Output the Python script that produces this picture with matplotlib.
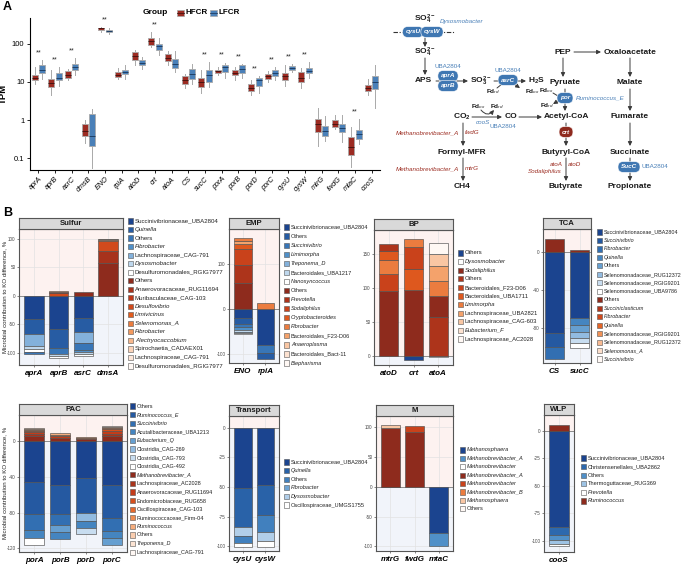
import matplotlib
matplotlib.use('Agg')
import matplotlib.pyplot as plt
import matplotlib.colors as mcolors
from matplotlib.patches import Rectangle
import numpy as np

plt.rcParams['font.family'] = ['Liberation Sans', 'DejaVu Sans']
plt.rcParams['mathtext.fontset'] = 'custom'
plt.rcParams['mathtext.rm'] = 'Liberation Sans'
plt.rcParams['mathtext.it'] = 'Liberation Sans:italic'
plt.rcParams['mathtext.bf'] = 'Liberation Sans:bold'

# ---------------- Panel A data (TPM box statistics) ----------------
genes_A = ['aprA', 'aprB', 'asrC', 'dmsB', 'ENO', 'rpiA', 'atoD', 'crt', 'atoA', 'CS', 'sucC',
           'porA', 'porB', 'porD', 'porC', 'cysU', 'cysW', 'mtrG', 'fwdG', 'mtaC', 'cooS']
hf_med = [13, 9.5, 15.5, 0.52, 250, 15.5, 47, 115, 43, 11, 10, 19, 17.5, 7, 14, 14, 13, 0.79, 0.8, 0.195, 7]
hf_q1 = [11, 7.5, 13, 0.38, 232, 13.5, 38, 95, 35, 9, 7.5, 17, 15, 5.7, 12, 11, 10, 0.5, 0.65, 0.125, 5.8]
hf_q3 = [15, 12, 19, 0.8, 265, 18, 62, 140, 55, 14, 13, 21, 21, 9, 16, 17, 18, 1.06, 1.0, 0.37, 8.1]
hf_lo = [9, 4.5, 11, 0.25, 200, 12, 27, 80, 27, 7, 5, 15, 11, 4.5, 10, 8, 7, 0.215, 0.58, 0.061, 4.7]
hf_hi = [24, 20, 22, 1.0, 275, 23, 70, 200, 65, 16, 20, 25, 24, 11, 19, 27, 23, 2.05, 1.35, 0.65, 12]
lf_med = [20, 13, 25, 0.38, 220, 18, 32, 85, 30, 16, 15, 24, 22, 11, 17, 23, 19, 0.53, 0.62, 0.43, 9.9]
lf_q1 = [17, 11, 21, 0.21, 205, 16, 27, 70, 23, 12, 10, 18, 17, 8, 14, 20, 17, 0.39, 0.5, 0.32, 6.4]
lf_q3 = [27, 17, 30, 1.45, 235, 21, 38, 100, 40, 22, 20, 28, 28, 13, 20, 26, 23, 0.71, 0.79, 0.56, 14]
lf_lo = [12, 8, 15, 0.055, 175, 12, 22, 50, 18, 9, 7.5, 13, 13, 5, 11, 18, 13, 0.29, 0.27, 0.24, 2.1]
lf_hi = [38, 24, 42, 2.0, 250, 27, 45, 140, 65, 30, 33, 32, 30, 14, 24, 29, 33, 1.27, 1.35, 1.06, 27]
sig_A = ['**', '**', '**', '', '**', '', '', '**', '', '', '**', '**', '**', '**', '**', '**', '**', '', '', '**', '']

# ---------------- Panel B data (contribution, %) ----------------
sulfur_genes = ['aprA', 'aprB', 'asrC', 'dmsA']
sulfur_neg_taxa = ['Succinivibrionaceae_UBA2804', 'Quinella', 'Others', 'Fibrobacter',
                   'Lachnospiraceae_CAG-791', 'Dysosmobacter', 'Desulfuromonadales_RGIG7977']
sulfur_neg_vals = [[-41, -58, -39, 0], [-26, -34, -25, 0], [-3, -9, -12, 0], [0, 0, -4, 0],
                   [-20, 0, -18, 0], [-6, -5, -4, 0], [-5.5, -2, -4, 0]]
sulfur_pos_taxa = ['Others', 'Anaerovoracaceae_RUG11694', 'Muribaculaceae_CAG-103', 'Desulfovibrio',
                   'Limivicinus', 'Selenomonas_A', 'Fibrobacter', 'Alectryocaccobium',
                   'Spirochaetia_CADAEX01', 'Lachnospiraceae_CAG-791', 'Desulfuromonadales_RGIG7977']
sulfur_pos_vals = [[0, 2, 6, 58], [0, 0, 0, 21], [0, 0, 0, 0], [0, 4.5, 0, 17], [0, 0, 0, 0],
                   [0, 0, 0, 2.5], [0, 1.5, 0, 0], [0, 0, 0, 1], [0, 0, 0, 0], [0, 0, 0, 0], [0, 0, 0, 0.5]]

emp_genes = ['ENO', 'rpiA']
emp_neg_taxa = ['Succinivibrionaceae_UBA2804', 'Others', 'Succinivibrio', 'Limimorpha',
                'Treponema_D', 'Bacteroidales_UBA1217', 'Nanosyncoccus']
emp_neg_vals = [[-19, -80], [-15, -13], [-7, -17], [-6, 0], [-3, 0], [-4, 0], [-2, 0]]
emp_pos_taxa = ['Others', 'Prevotella', 'Sodaliphilus', 'Cryptobacteroides', 'Fibrobacter',
                'Bacteroidales_F23-D06', 'Anaeroplasma', 'Bacteroidales_Bact-11', 'Blepharisma']
emp_pos_vals = [[59, 0], [40, 0], [35, 0], [10, 0], [5, 12.6], [8, 0], [0, 0], [0, 0], [0, 0]]

bp_genes = ['atoD', 'crt', 'atoA']
bp_neg_taxa = ['Others', 'Dysosmobacter']
bp_neg_vals = [[0, -5, 0], [0, 0, -1]]
bp_pos_taxa = ['Sodaliphilus', 'Others', 'Bacteroidales_F23-D06', 'Bacteroidales_UBA1711', 'Limimorpha',
               'Lachnospiraceae_UBA2821', 'Lachnospiraceae_CAG-603', 'Eubacterium_F', 'Lachnospiraceae_AC2028']
bp_pos_vals = [[95, 97, 31], [11, 0, 57], [26, 31, 0], [13, 31.5, 0], [20, 12, 22],
               [0, 0, 21.5], [0, 0, 18], [0, 0, 0], [0, 0, 16]]

tca_genes = ['CS', 'sucC']
tca_neg_taxa = ['Succinivibrionaceae_UBA2804', 'Succinivibrio', 'Fibrobacter', 'Quinella', 'Others',
                'Selenomonadaceae_RUG12372', 'Selenomonadaceae_RGIG9201', 'Selenomonadaceae_UBA9786']
tca_neg_vals = [[-85, -70], [-15, 0], [-13, 0], [0, -7], [0, -6.9], [0, -6.5], [0, -5.5], [0, -5.2]]
tca_pos_taxa = ['Others', 'Succiniclasticum', 'Fibrobacter', 'Quinella', 'Selenomonadaceae_RGIG9201',
                'Selenomonadaceae_RUG12372', 'Selenomonas_A', 'Succinivibrio']
tca_pos_vals = [[14, 2], [0, 0], [0, 0], [0, 0], [0, 0], [0, 0], [0, 0], [0, 0]]

pac_genes = ['porA', 'porB', 'porD', 'porC']
pac_neg_taxa = ['Others', 'Ruminococcus_E', 'Succinivibrio', 'Acutalibacteraceae_UBA1213', 'Eubacterium_Q',
                'Clostridia_CAG-269', 'Clostridia_CAG-793', 'Clostridia_CAG-492']
pac_neg_vals = [[-45.6, -49, -41, -49], [-36.4, -33, -39, -37], [-17, -12, 0, -14.5], [-9.4, -7.8, -8.6, -8.2],
                [0, -8, 0, -8], [0, 0, -9, 0], [0, 0, -6.7, 0], [-7.6, 0, 0, 0]]
pac_pos_taxa = ['Methanobrevibacter_A', 'Lachnospiraceae_AC2028', 'Anaerovoracaceae_RUG11694',
                'Endomicrobiaceae_RUG658', 'Oscillospiraceae_CAG-103', 'Ruminococcaceae_Firm-04',
                'Ruminococcus', 'Others', 'Treponema_D', 'Lachnospiraceae_CAG-791']
pac_pos_vals = [[5, 3, 2, 5], [3, 0, 0, 3], [2, 2, 1, 3], [1.5, 0, 0, 2], [1, 2, 0, 1.5],
                [1, 0, 1, 1.5], [0, 1.6, 0, 0], [0.5, 0, 0, 0], [0, 0, 0, 1], [0, 0, 0, 0]]

trans_genes = ['cysU', 'cysW']
trans_neg_taxa = ['Succinivibrionaceae_UBA2804', 'Quinella', 'Others', 'Fibrobacter',
                  'Dysosmobacter', 'Oscillospiraceae_UMGS1755']
trans_neg_vals = [[-51, -48], [-33, -26], [-6, -14], [0, 0], [-7, -7.5], [-4, -5.5]]
trans_pos_taxa = []
trans_pos_vals = []

m_genes = ['mtrG', 'fwdG', 'mtaC']
m_neg_taxa = ['Methanosphaera', 'Methanobrevibacter_A', 'Methanobrevibacter']
m_neg_vals = [[0, 0, -77], [0, 0, -23], [-1, 0, 0]]
m_pos_taxa = ['Methanobrevibacter_A', 'Methanobrevibacter', 'Methanobrevibacter_B', 'Methanosphaera', 'Others']
m_pos_vals = [[98, 92, 0], [0, 9.7, 0], [0, 0, 0], [6, 0, 0], [0, 0, 0]]

wlp_genes = ['cooS']
wlp_neg_taxa = ['Succinivibrionaceae_UBA2804', 'Christensenellales_UBA2862', 'Others',
                'Thermoguttaceae_RUG369', 'Prevotella']
wlp_neg_vals = [[-87], [-8], [-4.2], [-3.8], [-2]]
wlp_pos_taxa = ['Ruminococcus']
wlp_pos_vals = [[5.5]]

ITALIC = {'Quinella', 'Fibrobacter', 'Dysosmobacter', 'Desulfovibrio', 'Limivicinus', 'Selenomonas_A',
          'Alectryocaccobium', 'Succinivibrio', 'Limimorpha', 'Treponema_D', 'Nanosyncoccus', 'Prevotella',
          'Sodaliphilus', 'Cryptobacteroides', 'Anaeroplasma', 'Blepharisma', 'Eubacterium_F',
          'Succiniclasticum', 'Ruminococcus_E', 'Eubacterium_Q', 'Methanobrevibacter_A', 'Ruminococcus',
          'Methanosphaera', 'Methanobrevibacter', 'Methanobrevibacter_B'}

# ---------------- styling ----------------
W, H = 685, 566
HF_COL = '#9C2B22'
LF_COL = '#4A80B8'
BLUE_T = '#4A80B8'
RED_T = '#9B2A1F'
BOXB = '#3F77B2'
BOXR = '#8E2A1E'
BLUE_ANCH = ['#1B448F', '#2D69AE', '#4F90C8', '#9DC2E4', '#FFFFFF']
RED_ANCH = ['#8E2B1D', '#C0391A', '#E25C1E', '#F39A5F', '#FBD3B8', '#FFF8F4']


def ramp(anchors, n):
    cmap = mcolors.LinearSegmentedColormap.from_list('r', anchors)
    if n <= 1:
        return [cmap(0.0)] * n
    return [cmap(i / (n - 1)) for i in range(n)]


fig = plt.figure(figsize=(W / 100, H / 100), dpi=100)
fig.patch.set_facecolor('white')


def fax(x0, y0, x1, y1):
    return fig.add_axes([x0 / W, 1 - y1 / H, (x1 - x0) / W, (y1 - y0) / H])


# ---------------- Panel A boxplot ----------------
axA = fax(30, 18, 380, 170)
n = len(genes_A)
pos = np.arange(1, n + 1)
off = 0.22
bw = 0.36
hf_stats = [dict(med=hf_med[i], q1=hf_q1[i], q3=hf_q3[i], whislo=hf_lo[i], whishi=hf_hi[i]) for i in range(n)]
lf_stats = [dict(med=lf_med[i], q1=lf_q1[i], q3=lf_q3[i], whislo=lf_lo[i], whishi=lf_hi[i]) for i in range(n)]
for stats, dx, col, mcol in [(hf_stats, -off, HF_COL, '#4A1410'), (lf_stats, off, LF_COL, '#1F3F66')]:
    axA.bxp(stats, positions=pos + dx, widths=bw, patch_artist=True, showfliers=False,
            boxprops=dict(facecolor=col, edgecolor='#A9A9A9', linewidth=0.6),
            medianprops=dict(color=mcol, linewidth=0.7),
            whiskerprops=dict(color='#A9A9A9', linewidth=0.7),
            capprops=dict(linewidth=0), capwidths=0)
axA.set_yscale('log')
axA.set_ylim(0.05, 470)
axA.set_xlim(0.5, n + 0.5)
axA.set_yticks([0.1, 1, 10, 100])
axA.set_yticklabels(['0.1', '1', '10', '100'], fontsize=5.5)
axA.minorticks_off()
axA.set_xticks(pos)
axA.set_xticklabels(genes_A, rotation=45, ha='right', rotation_mode='anchor', fontsize=5.2, style='italic')
axA.tick_params(length=2.5, width=0.6, pad=1.5)
for s in ['top', 'right']:
    axA.spines[s].set_visible(False)
for s in ['left', 'bottom']:
    axA.spines[s].set_linewidth(0.8)
axA.set_ylabel('TPM', fontsize=6.8, fontweight='bold', labelpad=3)
for i in range(n):
    if sig_A[i]:
        top = max(hf_hi[i], lf_hi[i]) * 1.55
        axA.text(pos[i], top, sig_A[i], ha='center', va='center', fontsize=5.2, color='#222222')

# ---------------- Panel B facets ----------------
legend_jobs = []


def draw_stack(ax, vals, colors, xs, width):
    if len(vals) == 0:
        return
    arr = np.array(vals, dtype=float)
    for j, x in enumerate(xs):
        colv = arr[:, j]
        order = sorted(range(len(colv)), key=lambda k: -abs(colv[k]))
        base = 0.0
        for k in order:
            v = colv[k]
            if v == 0:
                continue
            ax.bar(x, v, width, bottom=base, color=colors[k], edgecolor='#505050', linewidth=0.45, zorder=3)
            base += v


def facet(box, title, genes, neg_taxa, neg_vals, pos_taxa, pos_vals, ylim, yticks, leg, pad=0.6, width=0.78):
    x0, y0, x1, y1 = box
    ax = fax(x0, y0, x1, y1)
    ng = len(genes)
    xs = np.arange(1, ng + 1)
    ax.set_xlim(1 - pad, ng + pad)
    ax.set_ylim(*ylim)
    ax.axhspan(0, ylim[1], color='#FDF2F0', zorder=0, lw=0)
    ax.axhspan(ylim[0], 0, color='#F1F4FA', zorder=0, lw=0)
    for t in yticks:
        ax.axhline(t, color='#E2E2E2', lw=0.5, zorder=1)
    for x in xs:
        ax.axvline(x, color='#E2E2E2', lw=0.5, zorder=1)
    ax.axhline(0, color='#8C8C8C', lw=0.7, zorder=2)
    bcols = ramp(BLUE_ANCH, len(neg_taxa))
    rcols = ramp(RED_ANCH, len(pos_taxa))
    draw_stack(ax, neg_vals, bcols, xs, width)
    draw_stack(ax, pos_vals, rcols, xs, width)
    ax.set_xticks(xs)
    ax.set_xticklabels(genes, fontsize=5.8, fontweight='bold', style='italic')
    ax.set_yticks(yticks)
    ax.set_yticklabels([str(t) for t in yticks], fontsize=3.3, color='#444444')
    ax.tick_params(axis='y', length=1.5, width=0.5, pad=1, color='#555555')
    ax.tick_params(axis='x', length=1.5, width=0.5, pad=2, color='#555555')
    for s in ax.spines.values():
        s.set_color('#555555')
        s.set_linewidth(0.8)
    sax = fax(x0, y0 - 11, x1, y0)
    sax.set_facecolor('#D9D9D9')
    sax.set_xticks([])
    sax.set_yticks([])
    for s in sax.spines.values():
        s.set_color('#555555')
        s.set_linewidth(0.8)
    sax.text(0.5, 0.5, title, transform=sax.transAxes, ha='center', va='center',
             fontsize=5.6, fontweight='bold', color='#1A1A1A')
    legend_jobs.append((leg, list(neg_taxa) + list(pos_taxa), bcols + rcols))


facet((19, 229, 123, 365), 'Sulfur', sulfur_genes, sulfur_neg_taxa, sulfur_neg_vals, sulfur_pos_taxa,
      sulfur_pos_vals, (-121, 117), [-100, -50, 0, 50, 100], (128, 221, 8.53, 4.45))
facet((229, 229, 279, 363), 'EMP', emp_genes, emp_neg_taxa, emp_neg_vals, emp_pos_taxa, emp_pos_vals,
      (-120, 178), [-100, 0, 100], (284, 227, 9.07, 4.1))
facet((374, 230, 453, 365), 'BP', bp_genes, bp_neg_taxa, bp_neg_vals, bp_pos_taxa, bp_pos_vals,
      (-13, 185), [0, 50, 100, 150], (458, 253, 8.6, 4.2))
facet((543, 229, 591, 363), 'TCA', tca_genes, tca_neg_taxa, tca_neg_vals, tca_pos_taxa, tca_pos_vals,
      (-117, 24), [-80, -40, 0], (597, 232, 8.47, 3.9), pad=0.46)
facet((19, 415, 127, 552), 'PAC', pac_genes, pac_neg_taxa, pac_neg_vals, pac_pos_taxa, pac_pos_vals,
      (-124, 29), [-120, -80, -40, 0], (130, 406, 8.6, 4.0))
facet((229, 416, 279, 551), 'Transport', trans_genes, trans_neg_taxa, trans_neg_vals, trans_pos_taxa,
      trans_pos_vals, (-104, 10), [-100, -75, -50, -25, 0], (284, 462, 8.6, 4.1))
facet((376, 416, 453, 551), 'M', m_genes, m_neg_taxa, m_neg_vals, m_pos_taxa, m_pos_vals,
      (-108, 119), [-100, -50, 0, 50, 100], (460, 450, 8.4, 4.1))
facet((544, 415, 574, 552), 'WLP', wlp_genes, wlp_neg_taxa, wlp_neg_vals, wlp_pos_taxa, wlp_pos_vals,
      (-110, 14.5), [-100, -75, -50, -25, 0], (581, 458, 8.6, 4.1))

# ---------------- overlay (legends, labels, pathway diagram) ----------------
ov = fig.add_axes([0, 0, 1, 1])
ov.set_xlim(0, W)
ov.set_ylim(H, 0)
ov.axis('off')
ov.patch.set_alpha(0)

for (sqx, y0, dy, fs), names, cols in legend_jobs:
    for k, (nm, c) in enumerate(zip(names, cols)):
        yy = y0 + k * dy
        ov.add_patch(Rectangle((sqx, yy - 2.6), 5.2, 5.2, fc=c, ec='#555555', lw=0.4))
        ov.text(sqx + 7.0, yy, nm, ha='left', va='center', fontsize=fs, color='#222222',
                style='italic' if nm in ITALIC else 'normal')

ov.text(3, 7, 'A', fontsize=9, fontweight='bold', va='center', ha='left')
ov.text(3, 213, 'B', fontsize=9, fontweight='bold', va='center', ha='left')
for yc in [297, 483]:
    ov.text(4.5, yc, 'Microbial contribution to KO difference, %', rotation=90, ha='center', va='center',
            fontsize=4.4, color='#222222')

# group legend
ov.text(155, 13, 'Group', fontsize=6, fontweight='bold', ha='center', va='center')
for x, c, mc, lbl in [(177, HF_COL, '#4A1410', 'HFCR'), (210, LF_COL, '#1F3F66', 'LFCR')]:
    ov.add_patch(Rectangle((x, 10), 7, 6, fc=c, ec='#A9A9A9', lw=0.5))
    ov.plot([x, x + 7], [13, 13], color=mc, lw=0.6)
    ov.text(x + 9, 13, lbl, fontsize=5.8, fontweight='bold', ha='left', va='center')


def met(x, y, s, size=6.0):
    ov.text(x, y, s, ha='center', va='center', fontsize=size, fontweight='bold', color='#1A1A1A', zorder=5)


def enz(x, y, s, fc=BOXB):
    ov.text(x, y, s, ha='center', va='center', fontsize=4.6, color='white', style='italic', fontweight='bold',
            zorder=6, bbox=dict(boxstyle='round,pad=0.45,rounding_size=0.8', fc=fc, ec='white', lw=0.4))


def lab(x, y, s, color, italic=True, size=4.5, ha='center'):
    ov.text(x, y, s, ha=ha, va='center', fontsize=size, color=color,
            style='italic' if italic else 'normal', zorder=5)


def arr(x0, y0, x1, y1, rad=0.0, head=True):
    ov.annotate('', xy=(x1, y1), xytext=(x0, y0),
                arrowprops=dict(arrowstyle='-|>' if head else '-', color='#3A3A3A', lw=0.7, mutation_scale=6,
                                shrinkA=0, shrinkB=0, connectionstyle='arc3,rad=%s' % rad), zorder=4)


def fd(x, y, sub):
    ov.text(x, y, 'Fd$_{%s}$' % sub, ha='center', va='center', fontsize=4.6, fontweight='bold',
            color='#1A1A1A', zorder=5)


# sulfate branch
met(425, 19, r'$\mathbf{SO_4^{2-}}$')
ov.plot([393, 455], [32, 32], color='#333333', lw=0.8, ls=(0, (4, 1.5, 1, 1.5)), zorder=3)
enz(413, 32, 'cysU')
enz(432, 32, 'cysW')
lab(462, 22, 'Dysosmobacter', BLUE_T)
arr(425, 38, 425, 47)
met(425, 52, r'$\mathbf{SO_4^{2-}}$')
arr(425, 58, 425, 75)
met(423, 81, 'APS')
arr(436, 81, 468, 81)
lab(448, 66, 'UBA2804', BLUE_T, italic=False)
enz(448, 76, 'aprA')
enz(448, 86, 'aprB')
met(481, 81, r'$\mathbf{SO_3^{2-}}$')
arr(494, 81, 526, 81)
lab(508, 71, 'UBA2804', BLUE_T, italic=False)
enz(508, 80, 'asrC')
met(536, 81, r'$\mathbf{H_2S}$')
fd(493, 92, 'rd')
fd(532, 92, 'ox')
arr(497, 88, 502, 84, head=False)
arr(514, 84, 520, 88)

# pyruvate / butyrate branch
met(563, 52, 'PEP')
arr(574, 52, 601, 52)
met(630, 52, 'Oxaloacetate')
arr(563, 58, 563, 77)
met(565, 83, 'Pyruate')
arr(565, 89, 565, 111)
fd(546, 91, 'ox')
fd(547, 106, 'rd')
arr(553, 93, 558, 96, head=False)
arr(558, 101, 553, 104)
enz(565, 98, 'por')
lab(600, 98, 'Ruminococcus_E', BLUE_T)
met(566, 117, 'Acetyl-CoA')
met(462, 117, r'$\mathbf{CO_2}$')
arr(472, 117, 502, 117)
met(511, 117, 'CO')
arr(519, 117, 542, 117)
fd(478, 107, 'ox')
fd(497, 107, 'rd')
arr(481, 110, 494, 110, rad=0.6)
lab(483, 122, 'cooS', BLUE_T)
lab(503, 127, 'UBA2804', BLUE_T, italic=False)
arr(566, 123, 566, 146)
enz(566, 132, 'crt', fc=BOXR)
met(566, 152, 'Butyryl-CoA')
arr(566, 158, 566, 181)
lab(556, 164, 'atoA', RED_T)
lab(574, 164, 'atoD', RED_T)
lab(545, 172, 'Sodaliphilus', RED_T)
met(566, 187, 'Butyrate')

# methanogenesis branch
arr(463, 123, 463, 146)
lab(427, 133, 'Methanobrevibacter_A', RED_T)
lab(472, 133, 'fwdG', RED_T)
met(462, 152, 'Formyl-MFR')
arr(463, 158, 463, 181)
lab(427, 169, 'Methanobrevibacter_A', RED_T)
lab(472, 169, 'mtrG', RED_T)
met(462, 187, 'CH4')

# succinate branch
arr(630, 58, 630, 77)
met(630, 83, 'Malate')
arr(630, 89, 630, 111)
met(630, 117, 'Fumarate')
arr(630, 123, 630, 146)
met(630, 152, 'Succinate')
arr(630, 158, 630, 181)
enz(629, 167, 'SucC')
lab(655, 167, 'UBA2804', BLUE_T, italic=False)
met(630, 187, 'Propionate')

fig.savefig('out.png', dpi=100, facecolor='white')
